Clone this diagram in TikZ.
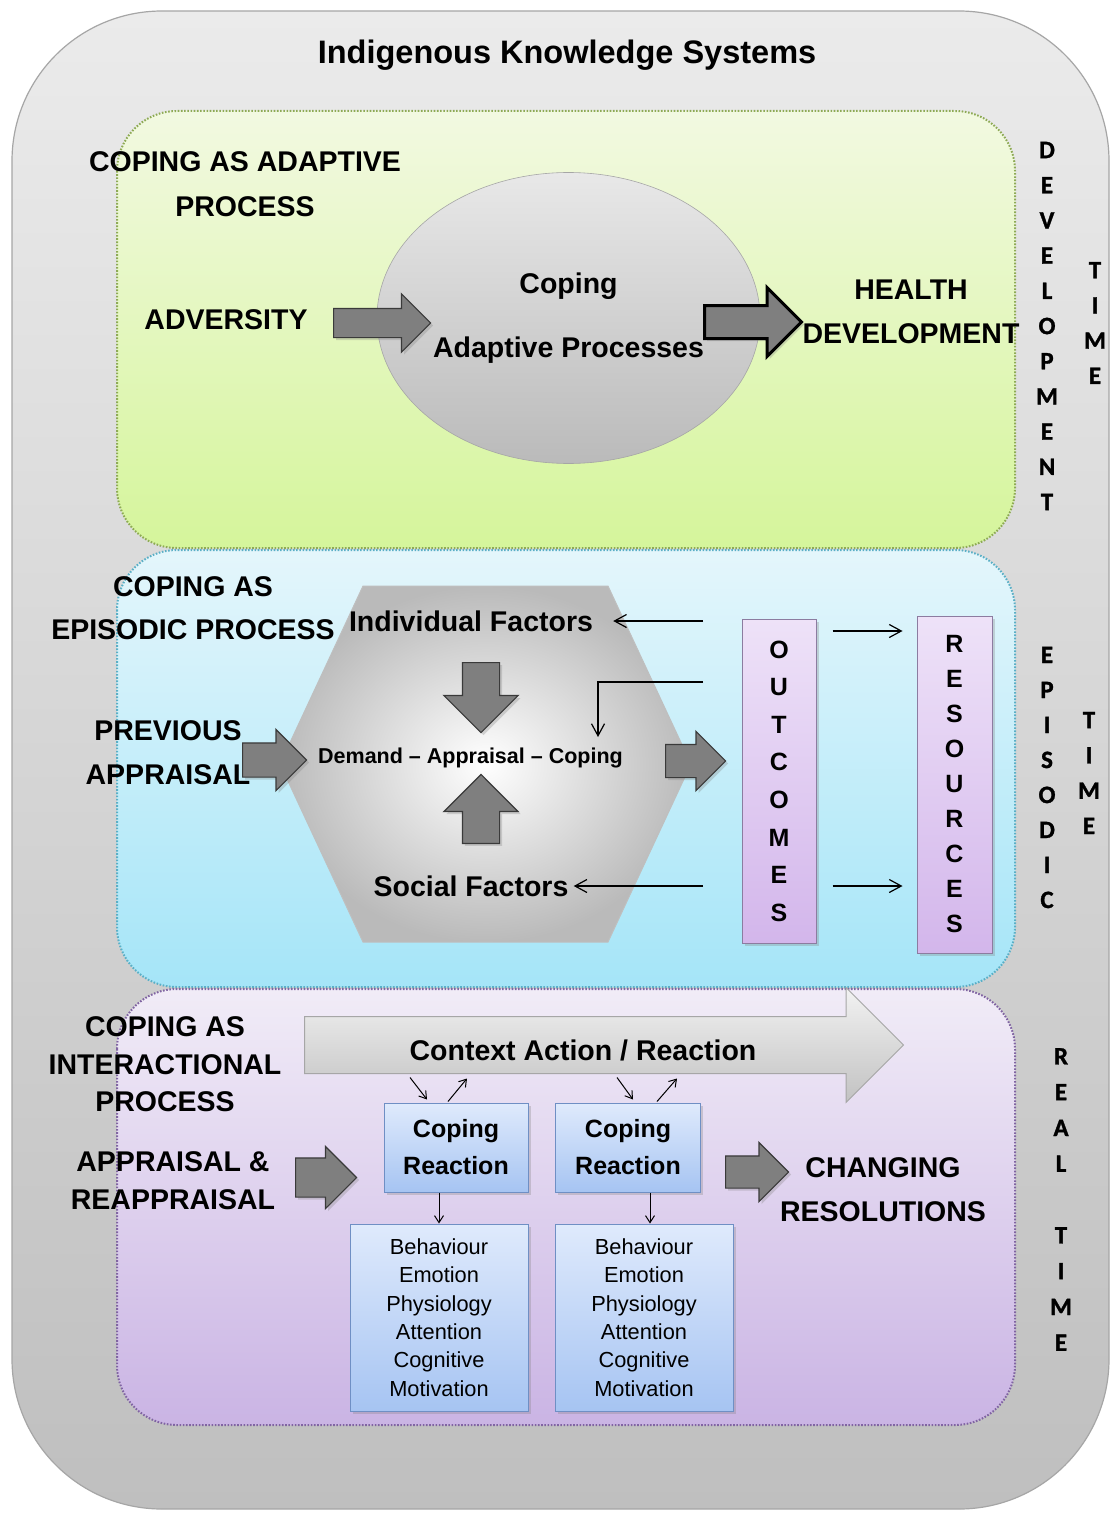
\documentclass[tikz,border=0pt]{standalone}
\usepackage{fontspec}
\setmainfont{Liberation Sans}
\newfontfamily\calfont[FakeBold=1.2]{Carlito Bold}
\usetikzlibrary{arrows,arrows.meta,positioning,calc,shapes.geometric,shapes.arrows,shadows}

\definecolor{outertop}{HTML}{EBEBEB}
\definecolor{outerbot}{HTML}{BFBFBF}
\definecolor{outerline}{HTML}{A6A6A6}
\definecolor{greentop}{HTML}{F2F9E1}
\definecolor{greenbot}{HTML}{D5F59B}
\definecolor{greenline}{HTML}{8EAA55}
\definecolor{bluetop}{HTML}{E4F6FB}
\definecolor{bluebot}{HTML}{A5E5F8}
\definecolor{blueline}{HTML}{5AAFC6}
\definecolor{purptop}{HTML}{F1ECF7}
\definecolor{purpbot}{HTML}{CAB4E4}
\definecolor{purpline}{HTML}{8064A2}
\definecolor{arrowfill}{HTML}{7F7F7F}
\definecolor{arrowline}{HTML}{3A3A3A}
\definecolor{lavtop}{HTML}{EEE2F8}
\definecolor{lavbot}{HTML}{D3B6EB}
\definecolor{lavline}{HTML}{8C7CA0}
\definecolor{cbtop}{HTML}{DFEAFC}
\definecolor{cbbot}{HTML}{A6C4F2}
\definecolor{cbline}{HTML}{6F8FC4}

\newcommand{\ttlfont}{\fontsize{32.5}{39}\selectfont\bfseries}
\newcommand{\capfont}[1]{\fontsize{28.5}{#1}\selectfont\bfseries}
\newcommand{\vfont}[1]{\calfont\fontsize{25}{#1}\selectfont}

\begin{document}
\begin{tikzpicture}[x=1pt, y=-1pt, >=stealth', semithick]
\tikzstyle{lbl}=[align=center, inner sep=1pt]
\tikzstyle{panel}=[rounded corners=60pt, line width=2pt, dash pattern=on 1.6pt off 1.6pt]
\tikzstyle{shd}=[drop shadow={opacity=0.3, shadow xshift=2.5pt, shadow yshift=-2.5pt}]
\tikzstyle{blk}=[single arrow, anchor=tail, draw=arrowline, fill=arrowfill, line width=1.2pt, inner xsep=0pt, minimum width=1pt, single arrow head indent=0pt, shd]
\tikzstyle{vblk}=[blk, inner ysep=0pt, inner xsep=18pt, single arrow head extend=18.5pt]
\tikzstyle{vbox}=[draw=lavline, top color=lavtop, bottom color=lavbot, line width=1pt, inner sep=0pt, align=center, shd]
\tikzstyle{cbox}=[draw=cbline, top color=cbtop, bottom color=cbbot, line width=1pt, inner sep=0pt, align=center, shd]
\tikzstyle{fb}=[-{Straight Barb[length=12pt,width=13pt]}, line width=1.2pt]
\tikzstyle{tiny}=[-{Straight Barb[length=7pt,width=9pt]}, line width=1pt]

\fill[white] (0,0) rectangle (1115,1517);
\useasboundingbox (0,0) rectangle (1115,1517);

% frame and the three time bands
\path[draw=outerline, line width=1.2pt, top color=outertop, bottom color=outerbot, rounded corners=150pt] (12,11) rectangle (1109,1509);
\path[panel, draw=greenline, top color=greentop, bottom color=greenbot] (117,111) rectangle (1015,548);
\path[panel, draw=blueline, top color=bluetop, bottom color=bluebot] (117,550) rectangle (1015,987);
\path[panel, draw=purpline, top color=purptop, bottom color=purpbot] (117,989) rectangle (1015,1425);

\node[lbl, font=\ttlfont] (T) at (567,55) {Indigenous Knowledge Systems};

% adaptive process
\node[lbl, font=\capfont{45}] (AP) at (245,184.5) {COPING AS ADAPTIVE\\PROCESS};
\node[lbl, font=\capfont{34}] (ADV) at (226,320) {ADVERSITY};
\node[ellipse, draw=black!35, top color=black!9, bottom color=black!27, minimum width=383pt, minimum height=291pt, inner sep=0pt, align=center, font=\capfont{64}] (E) at (568.5,318) {Coping\\Adaptive Processes};
\node[blk, minimum height=97pt, inner ysep=14pt, single arrow head extend=14.5pt] (a1) at (333,323) {};
\node[blk, draw=black, line width=3pt, minimum height=97pt, inner ysep=15pt, single arrow head extend=18pt] (a2) at (703,322) {};
\node[lbl, font=\capfont{44}] (HD) at (911,312) {HEALTH\\DEVELOPMENT};
\node[lbl, font=\vfont{35.2}] (DV) at (1047,326) {D\\E\\V\\E\\L\\O\\P\\M\\E\\N\\T};
\node[lbl, font=\vfont{35.2}] (DT) at (1095,323) {T\\I\\M\\E};

% episodic process
\node[lbl, font=\capfont{43}] (EP) at (193,608.5) {COPING AS\\EPISODIC PROCESS};
\path[draw=black!25, line width=1pt, shading=radial, inner color=white, outer color=black!27]
  (363,586) -- (608,586) -- (691,764) -- (608,942) -- (363,942) -- (280,764) -- cycle;
\node[lbl, font=\capfont{34}] (IF) at (471,621) {Individual Factors};
\node[lbl, font=\capfont{34}] (SF) at (471,886) {Social Factors};
\node[lbl, font=\fontsize{21.5}{26}\selectfont\bfseries] (DAC) at (470.5,758) {Demand -- Appraisal -- Coping};
\node[vblk, shape border rotate=270, minimum height=70pt] (a3) at (481,662) {};
\node[vblk, shape border rotate=90, minimum height=69pt] (a4) at (481,844) {};
\node[lbl, font=\capfont{44}] (PA) at (168,753) {PREVIOUS\\APPRAISAL};
\node[blk, minimum height=64pt, inner ysep=16.5pt, single arrow head extend=13.5pt] (a5) at (242,760) {};
\node[blk, minimum height=60pt, inner ysep=16pt, single arrow head extend=13pt] (a6) at (665,761) {};
\node[vbox, minimum width=74pt, minimum height=324pt, font=\fontsize{25}{37.6}\selectfont\bfseries] (OUT) at (779,781) {O\\U\\T\\C\\O\\M\\E\\S};
\node[vbox, minimum width=75pt, minimum height=337pt, font=\fontsize{25}{35}\selectfont\bfseries] (RES) at (954.5,784.5) {R\\E\\S\\O\\U\\R\\C\\E\\S};
\node[lbl, font=\vfont{35}] (EPI) at (1047,777.5) {E\\P\\I\\S\\O\\D\\I\\C};
\node[lbl, font=\vfont{35.3}] (ET) at (1089,773) {T\\I\\M\\E};

\coordinate (f1) at (703,621);
\coordinate (f2) at (703,682);
\coordinate (f2end) at (598,737);
\coordinate (f3) at (703,886);
\draw[fb, shorten >=19pt] (f1) -- (IF.east);
\draw[fb] (f2) -| (f2end);
\draw[fb, shorten >=4pt] (f3) -- (SF.east);
\draw[fb] ($(OUT.east)+(16,-150)$) -- ($(OUT.east -| RES.west)+(-14,-150)$);
\draw[fb] ($(OUT.east)+(16,105)$) -- ($(OUT.east -| RES.west)+(-14,105)$);

% interactional process
\node[lbl, font=\capfont{37.5}] (IP) at (165,1064.5) {COPING AS\\INTERACTIONAL\\PROCESS};
\node[lbl, font=\capfont{38}] (AR) at (173,1181) {APPRAISAL \&\\REAPPRAISAL};
\node[single arrow, anchor=tail, draw=black!35, line width=1pt, top color=black!5, bottom color=black!24, inner xsep=0pt, minimum width=1pt, single arrow head indent=0pt, minimum height=599pt, inner ysep=28pt, single arrow head extend=29pt] (CA) at (304,1045) {};
\node[lbl, font=\capfont{34}] (CAT) at (583,1050) {Context Action / Reaction};
\node[cbox, minimum width=144pt, minimum height=89pt, font=\fontsize{25}{37}\selectfont\bfseries] (CR1) at (456,1147.5) {Coping\\Reaction};
\node[cbox, minimum width=145pt, minimum height=89pt, font=\fontsize{25}{37}\selectfont\bfseries] (CR2) at (628,1147.5) {Coping\\Reaction};
\node[cbox, minimum width=178pt, minimum height=187pt, font=\fontsize{21.8}{28.4}\selectfont] (L1) at (439,1317.5) {Behaviour\\Emotion\\Physiology\\Attention\\Cognitive\\Motivation};
\node[cbox, minimum width=178pt, minimum height=187pt, font=\fontsize{21.8}{28.4}\selectfont] (L2) at (644,1317.5) {Behaviour\\Emotion\\Physiology\\Attention\\Cognitive\\Motivation};
\node[blk, minimum height=61pt, inner ysep=19pt, single arrow head extend=11.5pt] (a7) at (295,1177.5) {};
\node[blk, minimum height=63pt, inner ysep=15.5pt, single arrow head extend=13.5pt] (a8) at (725,1172) {};
\node[lbl, font=\capfont{44}] (CR) at (883,1190) {CHANGING\\RESOLUTIONS};
\node[lbl, font=\vfont{35.8}] (RT) at (1061,1199.5) {R\\E\\A\\L\\[35.8pt]T\\I\\M\\E};

\draw[tiny] ($(CR1.north)+(-46,-25)$) -- ($(CR1.north)+(-29,-3)$);
\draw[tiny] ($(CR1.north)+(-8,-1)$) -- ($(CR1.north)+(11,-24)$);
\draw[tiny] ($(CR2.north)+(-11,-25)$) -- ($(CR2.north)+(5,-3)$);
\draw[tiny] ($(CR2.north)+(29,-1)$) -- ($(CR2.north)+(49,-24)$);
\draw[tiny] (CR1.south -| L1.north) -- (L1.north);
\draw[tiny] ($(CR2.south -| L2.north)+(6,0)$) -- ($(L2.north)+(6,0)$);
\end{tikzpicture}
\end{document}
